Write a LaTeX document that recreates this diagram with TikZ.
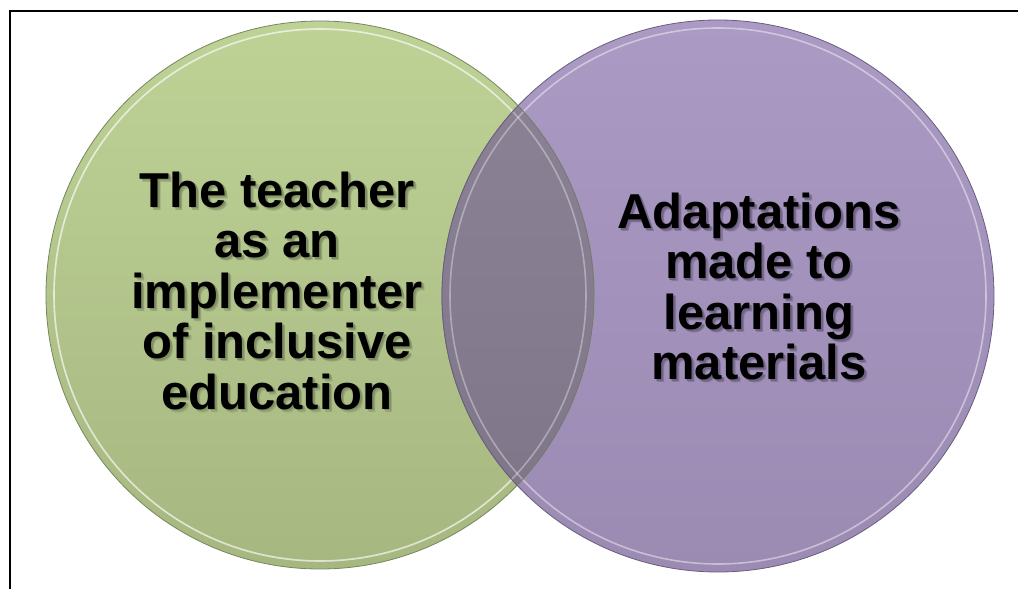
\documentclass[tikz,border=0pt]{standalone}
\usepackage{fontspec}
\setmainfont{Liberation Sans}
\definecolor{gtop}{RGB}{190,210,150}
\definecolor{gbot}{RGB}{166,183,128}
\definecolor{grim}{RGB}{120,135,95}
\definecolor{ptop}{RGB}{170,154,196}
\definecolor{pbot}{RGB}{155,138,178}
\definecolor{prim}{RGB}{105,95,125}
\definecolor{otop}{RGB}{140,132,150}
\definecolor{obot}{RGB}{126,116,136}
\definecolor{gsh}{RGB}{128,142,100}
\definecolor{gshl}{RGB}{150,166,118}
\definecolor{psh}{RGB}{112,100,132}
\definecolor{pshl}{RGB}{134,120,156}
% one line of text with a soft drop shadow, all in one box
\newcommand\shln[3]{\rlap{\kern3pt\raisebox{-3pt}{\textcolor{#2}{#3}}}\rlap{\kern1.8pt\raisebox{-1.8pt}{\textcolor{#1}{#3}}}#3}
\newcommand\gl[1]{\shln{gsh}{gshl}{#1}}
\newcommand\pl[1]{\shln{psh}{pshl}{#1}}
\tikzset{
  lbl/.style={align=center,inner sep=0pt,text=black,font=\fontsize{49}{50.5}\selectfont\bfseries},
  rim/.style={line width=0.8pt},
  hilite/.style={draw=white,draw opacity=0.45,line width=1.6pt}
}
\begin{document}
\begin{tikzpicture}[x=1pt,y=-1pt]
\useasboundingbox (0,0) rectangle (1018,589);
\fill[white] (0,0) rectangle (1018,589);
% frame
\draw[line width=2pt] (10,589) -- (10,11) -- (1018,11);
\coordinate (cl) at (320,295);
\coordinate (cr) at (718,296);
% left circle
\shade[top color=gtop,bottom color=gbot] (cl) circle[radius=274];
\draw[hilite] (cl) circle[radius=266];
\draw[rim,draw=grim] (cl) circle[radius=274];
% right circle
\shade[top color=ptop,bottom color=pbot] (cr) circle[radius=276];
\draw[hilite] (cr) circle[radius=268];
\draw[rim,draw=prim] (cr) circle[radius=276];
% overlap
\begin{scope}
  \clip (cl) circle[radius=274];
  \shade[top color=otop,bottom color=obot] (cr) circle[radius=276];
  \draw[hilite,draw opacity=0.35] (cr) circle[radius=268];
  \draw[hilite,draw opacity=0.35] (cl) circle[radius=266];
  \draw[rim,draw=prim] (cr) circle[radius=276];
\end{scope}
\begin{scope}
  \clip (cr) circle[radius=276];
  \draw[rim,draw=grim!70!prim] (cl) circle[radius=274];
\end{scope}
% texts
\node[lbl] (tl) at (277,292) {\gl{The teacher}\\\gl{as an}\\\gl{implementer}\\\gl{of inclusive}\\\gl{education}};
\node[lbl] (tr) at (759,288) {\pl{Adaptations}\\\pl{made to}\\\pl{learning}\\\pl{materials}};
\end{tikzpicture}
\end{document}
